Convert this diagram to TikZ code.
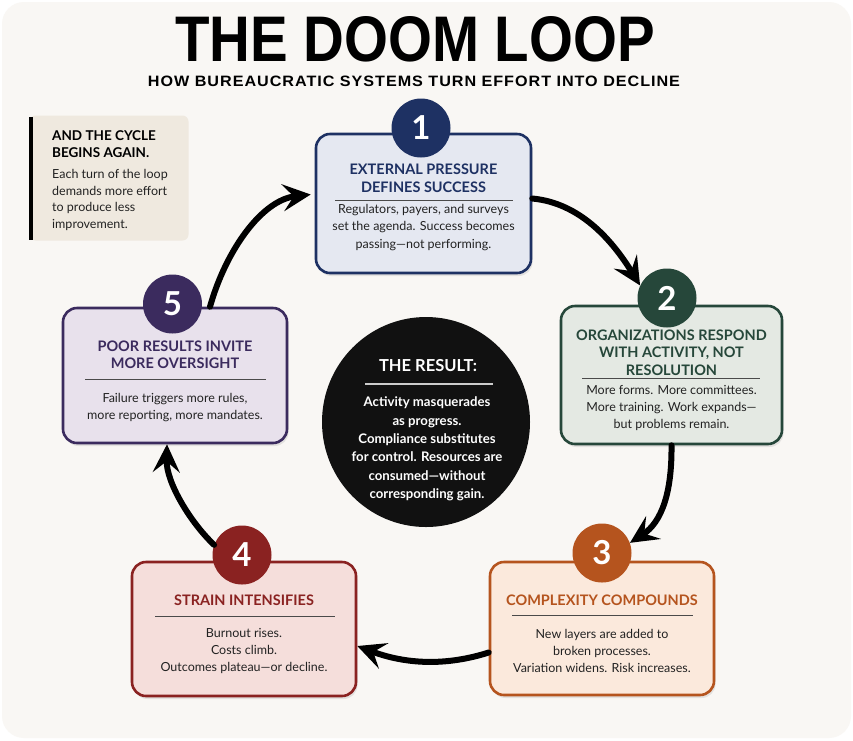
\documentclass[tikz,border=0pt]{standalone}
\usepackage{fontspec}
\setmainfont{Lato}
\newfontfamily\headfont{Liberation Sans}
\usepackage{graphicx}
\usetikzlibrary{arrows.meta,shadows,calc,shapes.geometric}
\definecolor{bgc}{HTML}{F9F7F4}
\definecolor{navy}{HTML}{1E3163}
\definecolor{navyfill}{HTML}{E5E8F1}
\definecolor{grn}{HTML}{26473A}
\definecolor{grnfill}{HTML}{E4E9E3}
\definecolor{purp}{HTML}{3B2B5E}
\definecolor{purpfill}{HTML}{E8E1EC}
\definecolor{orng}{HTML}{B5541E}
\definecolor{orngfill}{HTML}{FBE9DC}
\definecolor{redc}{HTML}{8A2221}
\definecolor{redfill}{HTML}{F5DEDB}
\definecolor{bodyc}{HTML}{222222}
\definecolor{rulec}{HTML}{4A4A4A}
\definecolor{notefill}{HTML}{EFE9DF}
\definecolor{blk}{HTML}{111111}
\tikzset{
  card/.style={draw, line width=2.6pt, rounded corners=14pt, inner sep=0pt,
    drop shadow={shadow xshift=1.5pt, shadow yshift=-3pt, opacity=0.18}},
  numc/.style={circle, minimum size=59pt, inner sep=0pt, text=white,
    font=\fontsize{33}{33}\selectfont\bfseries},
  ttl/.style={align=center, inner sep=0pt, font=\fontsize{14.5}{17.5}\selectfont\bfseries},
  bdy/.style={align=center, inner sep=0pt, text=bodyc, font=\fontsize{12.5}{17.3}\selectfont},
  rul/.style={line width=1pt, draw=rulec},
  loop/.style={line width=6pt, black, line cap=round,
    -{Stealth[length=28pt,width=27pt,inset=11pt]}}
}
\begin{document}
\begin{tikzpicture}[x=1pt,y=-1pt]
\useasboundingbox (0,0) rectangle (853,740);
\fill[white] (0,0) rectangle (853,740);
\fill[bgc, rounded corners=22pt] (2,2) rectangle (851,738);

% title
\node[inner sep=0pt] (title) at (415,39.5) {\resizebox{480pt}{45pt}{\headfont\bfseries THE DOOM LOOP}};
\node[inner sep=0pt] (subtitle) at (414,81) {\resizebox{532pt}{10.5pt}{\headfont\bfseries\addfontfeatures{LetterSpace=6}HOW BUREAUCRATIC SYSTEMS TURN EFFORT INTO DECLINE}};

% note box
\node[fill=notefill, rounded corners=6pt, minimum width=159pt, minimum height=125pt, inner sep=0pt] (note) at (109,178) {};
\fill[black] (29,117) rectangle (33,240);
\node[anchor=west, align=left, inner sep=0pt, font=\fontsize{13.5}{17}\selectfont\bfseries, text=black] (notet) at (52,144.5) {AND THE CYCLE\\BEGINS AGAIN.};
\node[anchor=west, align=left, inner sep=0pt, font=\fontsize{12.5}{16.8}\selectfont, text=bodyc] (noteb) at (52,200) {Each turn of the loop\\demands more effort\\to produce less\\improvement.};

% box 1
\node[card, draw=navy, fill=navyfill, minimum width=215pt, minimum height=139pt] (b1) at (423.5,203.5) {};
\node[numc, fill=navy] (c1) at (421,128) {1};
\node[ttl, text=navy] (t1) at (423.5,178) {EXTERNAL PRESSURE\\DEFINES SUCCESS};
\draw[rul] (335,200.5) -- (513,200.5);
\node[bdy] (d1) at (423.5,227.5) {Regulators, payers, and surveys\\set the agenda. Success becomes\\passing---not performing.};

% box 2
\node[card, draw=grn, fill=grnfill, minimum width=221pt, minimum height=138pt] (b2) at (671.5,375) {};
\node[numc, fill=grn] (c2) at (667,298) {2};
\node[ttl, text=grn] (t2) at (671.5,352.5) {ORGANIZATIONS RESPOND\\WITH ACTIVITY, NOT\\RESOLUTION};
\draw[rul] (582,378.5) -- (760,378.5);
\node[bdy] (d2) at (671.5,408) {More forms. More committees.\\More training. Work expands---\\but problems remain.};

% box 5
\node[card, draw=purp, fill=purpfill, minimum width=224pt, minimum height=135pt] (b5) at (175,375.5) {};
\node[numc, fill=purp] (c5) at (172.5,304) {5};
\node[ttl, text=purp] (t5) at (175,354.5) {POOR RESULTS INVITE\\MORE OVERSIGHT};
\draw[rul] (85,379) -- (266,379);
\node[bdy] (d5) at (175,407.5) {Failure triggers more rules,\\more reporting, more mandates.};

% box 3
\node[card, draw=orng, fill=orngfill, minimum width=224pt, minimum height=133pt] (b3) at (602,628.5) {};
\node[numc, fill=orng] (c3) at (602,553) {3};
\node[ttl, text=orng] (t3) at (602,600.5) {COMPLEXITY COMPOUNDS};
\draw[rul] (512,615.5) -- (693,615.5);
\node[bdy] (d3) at (602,651) {New layers are added to\\broken processes.\\Variation widens. Risk increases.};

% box 4
\node[card, draw=redc, fill=redfill, minimum width=224pt, minimum height=134pt] (b4) at (244,629) {};
\node[numc, fill=redc] (c4) at (242,555) {4};
\node[ttl, text=redc] (t4) at (244,600.5) {STRAIN INTENSIFIES};
\draw[rul] (155,616) -- (335,616);
\node[bdy] (d4) at (244,651) {Burnout rises.\\Costs climb.\\Outcomes plateau---or decline.};

% result circle
\node[ellipse, fill=blk, minimum width=208pt, minimum height=210pt, inner sep=0pt] (res) at (426,422) {};
\node[inner sep=0pt, text=white, font=\fontsize{16.5}{16.5}\selectfont\bfseries] (rest) at (428,366) {THE RESULT:};
\draw[line width=1.2pt, draw=white!80!black] (365,384) -- (493,384);
\node[align=center, inner sep=0pt, text=white, font=\fontsize{13.2}{18.3}\selectfont\bfseries] (resb) at (427,449) {Activity masquerades\\as progress.\\Compliance substitutes\\for control. Resources are\\consumed---without\\corresponding gain.};

% loop arrows
\draw[loop] ([yshift=5pt]b1.east) .. controls (580,203) and (612,240) .. (c2.155);
\draw[loop] (b2.south) .. controls (672,492) and (662,522) .. (c3.20);
\draw[loop] ([yshift=-24pt]b3.west) .. controls (440,668) and (400,662) .. ([yshift=-17pt]b4.east);
\draw[loop] (c4.160) .. controls (190,522) and (166,482) .. ([xshift=-8pt]b5.south);
\draw[loop] ([xshift=35pt]b5.north) .. controls (226,250) and (262,200) .. ([yshift=9pt,xshift=-4pt]b1.west);
\end{tikzpicture}
\end{document}
